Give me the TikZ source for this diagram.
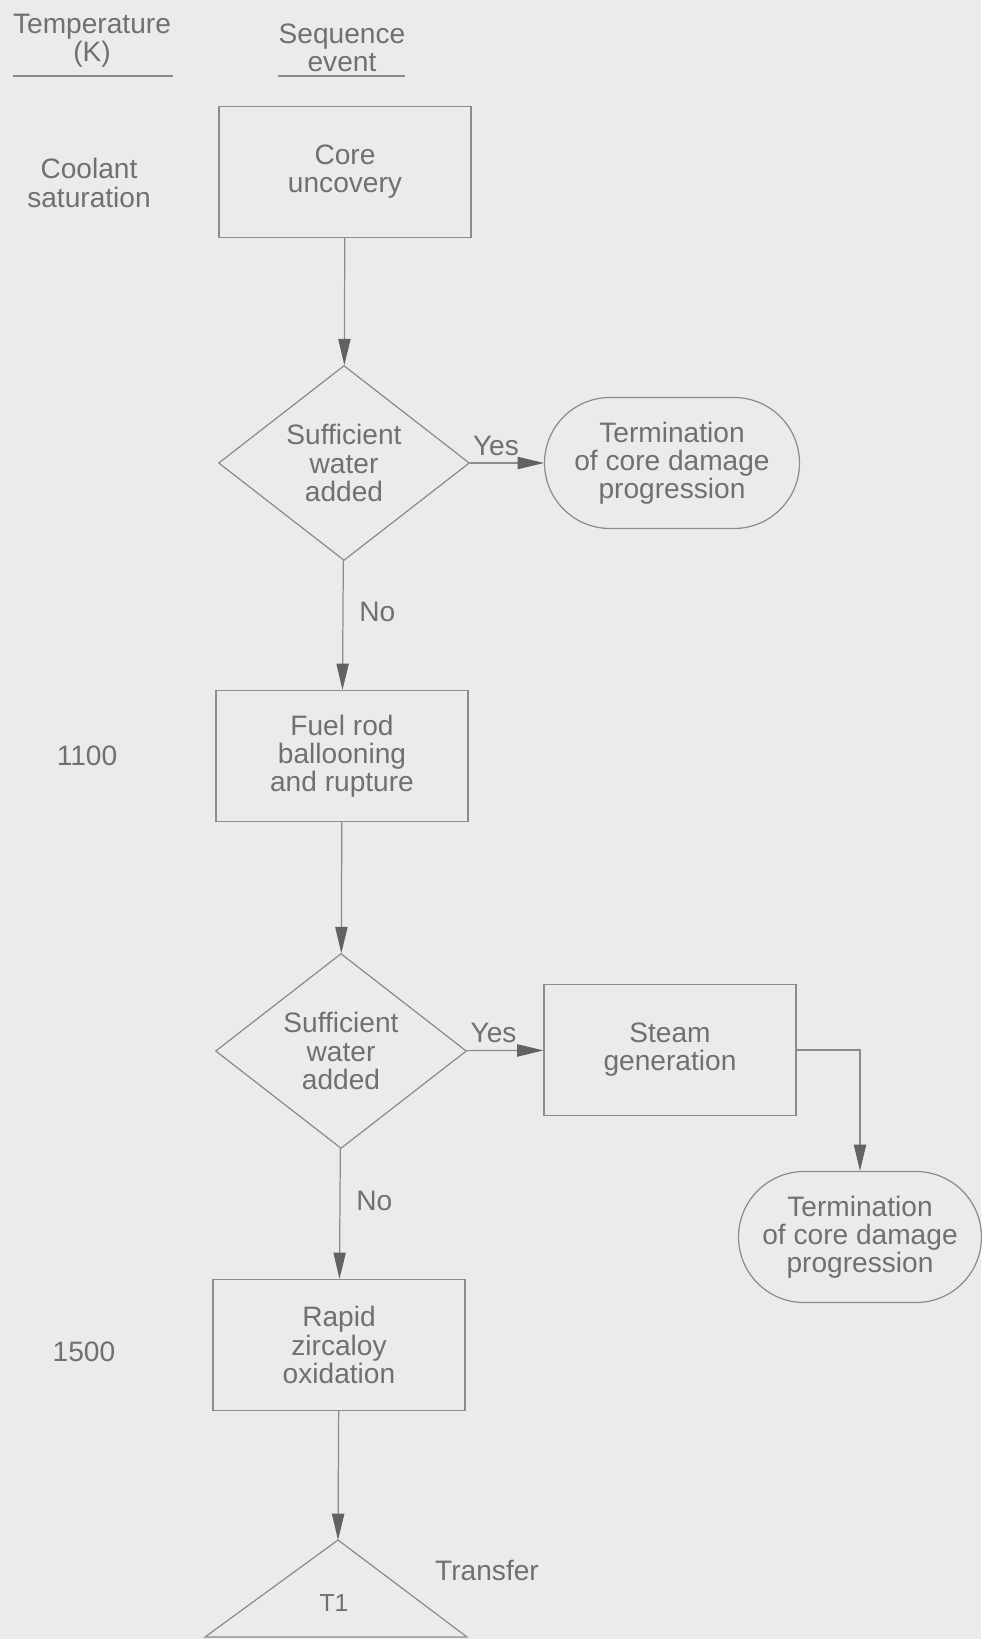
\documentclass[tikz,border=0pt]{standalone}
\usepackage{fontspec}
\setmainfont{Liberation Sans}
\usetikzlibrary{arrows.meta,positioning,shapes.geometric,shapes.misc}
\definecolor{paper}{HTML}{EBEBEA}
\definecolor{ink}{HTML}{8C8C8C}
\definecolor{txt}{HTML}{707070}

\begin{document}
\begin{tikzpicture}[x=0.02cm, y=-0.02cm,
  every node/.style={text=txt, font=\fontsize{16}{16}\selectfont, align=center},
  box/.style={draw=ink, line width=0.7pt, minimum width=5.04cm, minimum height=2.62cm, inner sep=0pt},
  decision/.style={draw=ink, line width=0.7pt, diamond, minimum width=5.02cm, minimum height=3.9cm, inner sep=0pt},
  stop/.style={draw=ink, line width=0.7pt, rounded rectangle, minimum width=5.1cm, minimum height=2.62cm, inner sep=0pt},
  flow/.style={draw=ink, line width=0.7pt, -{Triangle[length=15pt,width=7pt,color=ink!70!black]}}]
\useasboundingbox (0,0) rectangle (981,1639);
\fill[paper] (0,0) rectangle (981,1639);
% column heads
\node (temphead) at (92,41) {Temperature\\(K)};
\node (seqhead) at (342,48) {Sequence\\event};
\draw[ink, line width=0.6pt] (13,76) -- (173,76);
\draw[ink, line width=0.6pt] (278,76) -- (405,76);
% temperatures
\node (coolant) at (89,183) {Coolant\\saturation};
\node (t1100) at (87,756) {1100};
\node (t1500) at (84,1352) {1500};
% sequence
\node[box] (core) at (345,172) {Core\\uncovery};
\node[decision] (ask1) at (344,463) {Sufficient\\water\\added};
\node[stop] (term1) at (672,463) {Termination\\of core damage\\progression};
\node[box] (balloon) at (342,756) {Fuel rod\\ballooning\\and rupture};
\node[decision] (ask2) at (341,1051) {Sufficient\\water\\added};
\node[box] (steam) at (670,1050) {Steam\\generation};
\node[stop, minimum width=4.86cm] (term2) at (860,1237) {Termination\\of core damage\\progression};
\node[box] (oxid) at (339,1345) {Rapid\\zircaloy\\oxidation};
\coordinate (apex) at (338,1540);
\draw[ink, line width=0.7pt] (apex) -- ++(-133,97) -- ++(262,0) -- cycle;
\node[font=\fontsize{14}{14}\selectfont] (t1) at (334,1603) {T1};
\node (transfer) at (487,1570) {Transfer};
% connectors
\draw[flow] (core) -- (ask1);
\draw[flow] (ask1) -- node[above, pos=0.35, inner sep=4pt] {Yes} (term1);
\draw[flow] (ask1) -- node[right, pos=0.4, inner sep=9pt] {No} (balloon);
\draw[flow] (balloon) -- (ask2);
\draw[flow] (ask2) -- node[above, pos=0.35, inner sep=4pt] {Yes} (steam);
\draw[flow] (ask2) -- node[right, pos=0.4, inner sep=9pt] {No} (oxid);
\draw[flow] (steam.east) -| (term2.north);
\draw[flow] (oxid) -- (apex);
\end{tikzpicture}
\end{document}
